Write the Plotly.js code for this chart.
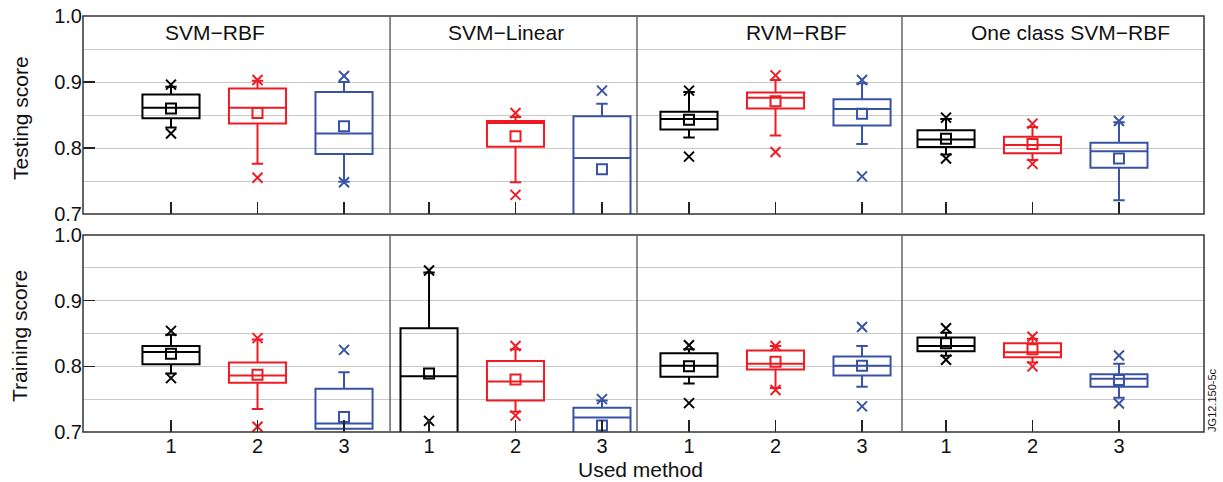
<!DOCTYPE html>
<html>
<head>
<meta charset="utf-8">
<script src="https://cdn.plot.ly/plotly-3.0.1.min.js"></script>
<style>html,body{margin:0;padding:0;background:#fff;}#chart{width:1223px;height:482px;}</style>
</head>
<body>
<div id="chart"></div>
<script>
// ---- data ----
const methods = [1, 2, 3];
const panelTitles = ['SVM\u2212RBF', 'SVM\u2212Linear', 'RVM\u2212RBF', 'One class SVM\u2212RBF'];
const rowTitles = ['Testing score', 'Training score'];
const methodColors = ['#000000', '#ed1c24', '#3953a4'];

// Testing score: [panel][method]
const testLower  = [[0.831, 0.776, 0.749], [null, 0.748, 0.640], [0.816, 0.819, 0.806], [0.790, 0.782, 0.721]];
const testQ1     = [[0.845, 0.837, 0.791], [null, 0.802, 0.660], [0.828, 0.860, 0.834], [0.8015, 0.792, 0.770]];
const testMedian = [[0.861, 0.861, 0.822], [null, 0.838, 0.785], [0.844, 0.876, 0.859], [0.813, 0.8045, 0.795]];
const testQ3     = [[0.881, 0.890, 0.885], [null, 0.841, 0.848], [0.855, 0.884, 0.874], [0.827, 0.817, 0.808]];
const testUpper  = [[0.893, 0.902, 0.900], [null, 0.847, 0.867], [0.885, 0.903, 0.898], [0.844, 0.832, 0.839]];
const testMean   = [[0.860, 0.853, 0.833], [null, 0.818, 0.768], [0.843, 0.871, 0.852], [0.814, 0.806, 0.784]];
const testOutliers = [
  [[0.896, 0.822], [0.903, 0.755], [0.909, 0.748]],
  [[], [0.853, 0.729], [0.887]],
  [[0.887, 0.787], [0.910, 0.794], [0.903, 0.757]],
  [[0.846, 0.784], [0.837, 0.776], [0.841]]
];

// Training score: [panel][method]
const trainLower  = [[0.789, 0.735, 0.705], [0.640, 0.731, 0.698], [0.774, 0.767, 0.769], [0.816, 0.806, 0.752]];
const trainQ1     = [[0.803, 0.775, 0.705], [0.660, 0.748, 0.698], [0.784, 0.795, 0.786], [0.823, 0.814, 0.769]];
const trainMedian = [[0.822, 0.786, 0.713], [0.785, 0.777, 0.722], [0.801, 0.804, 0.801], [0.831, 0.8215, 0.781]];
const trainQ3     = [[0.831, 0.806, 0.766], [0.858, 0.808, 0.737], [0.820, 0.824, 0.815], [0.844, 0.835, 0.788]];
const trainUpper  = [[0.848, 0.841, 0.791], [0.943, 0.826, 0.748], [0.826, 0.831, 0.831], [0.851, 0.842, 0.804]];
const trainMean   = [[0.819, 0.787, 0.723], [0.789, 0.780, 0.710], [0.800, 0.807, 0.801], [0.835, 0.826, 0.779]];
const trainOutliers = [
  [[0.854, 0.782], [0.843, 0.708], [0.825]],
  [[0.946, 0.717], [0.831, 0.725], [0.750]],
  [[0.832, 0.744], [0.831, 0.764], [0.860, 0.739]],
  [[0.858, 0.810], [0.845, 0.800], [0.8165, 0.7435]]
];

// ---- layout geometry ----
const xDomains = [[0, 0.2739], [0.2739, 0.4942], [0.4942, 0.7306], [0.7306, 1]];
const xRanges = [[-0.017, 3.532], [0.549, 3.405], [0.399, 3.462], [0.491, 3.983]];
const yDomains = [[0.524, 1], [0, 0.4736]];
const FONT = 'Liberation Sans, Arial, Helvetica, sans-serif';

const rows = [
  {lower: testLower, q1: testQ1, median: testMedian, q3: testQ3, upper: testUpper, mean: testMean, out: testOutliers},
  {lower: trainLower, q1: trainQ1, median: trainMedian, q3: trainQ3, upper: trainUpper, mean: trainMean, out: trainOutliers}
];

const traces = [];
rows.forEach((R, r) => {
  for (let p = 0; p < 4; p++) {
    const xa = 'x' + (r * 4 + p + 1 === 1 ? '' : (r * 4 + p + 1));
    const ya = r === 0 ? 'y' : 'y2';
    for (let m = 0; m < 3; m++) {
      if (R.q1[p][m] === null) continue;
      const c = methodColors[m];
      traces.push({
        type: 'box', x: [methods[m]],
        q1: [R.q1[p][m]], median: [R.median[p][m]], q3: [R.q3[p][m]],
        lowerfence: [R.lower[p][m]], upperfence: [R.upper[p][m]],
        width: 0.66, whiskerwidth: 0.2, boxpoints: false,
        line: {color: c, width: 2}, fillcolor: 'rgba(0,0,0,0)',
        hoverinfo: 'skip', xaxis: xa, yaxis: ya
      });
      traces.push({
        type: 'scatter', mode: 'markers', x: [methods[m]], y: [R.mean[p][m]],
        marker: {symbol: 'square-open', size: 10, color: c, line: {color: c, width: 2}},
        hoverinfo: 'skip', xaxis: xa, yaxis: ya
      });
      const o = R.out[p][m];
      if (o.length) {
        traces.push({
          type: 'scatter', mode: 'markers', x: o.map(() => methods[m]), y: o,
          marker: {symbol: 'x-thin-open', size: 10, color: c, line: {color: c, width: 2}},
          hoverinfo: 'skip', xaxis: xa, yaxis: ya
        });
      }
    }
  }
});

const layout = {
  width: 1223, height: 482,
  margin: {l: 83, r: 19, t: 16, b: 50},
  paper_bgcolor: '#fff', plot_bgcolor: '#fff',
  showlegend: false,
  font: {family: FONT, size: 20, color: '#111'},
  annotations: [], shapes: []
};

for (let r = 0; r < 2; r++) {
  for (let p = 0; p < 4; p++) {
    const idx = r * 4 + p + 1;
    const key = idx === 1 ? 'xaxis' : 'xaxis' + idx;
    layout[key] = {
      domain: xDomains[p], range: xRanges[p], anchor: r === 0 ? 'y' : 'y2',
      tickvals: methods, ticktext: methods.map(String),
      ticks: 'inside', ticklen: 12, tickwidth: 1.2, tickcolor: '#222',
      showticklabels: r === 1, tickfont: {size: 20, family: FONT, color: '#111'},
      showgrid: false, zeroline: false, showline: false, fixedrange: true
    };
  }
}
['yaxis', 'yaxis2'].forEach((k, r) => {
  layout[k] = {
    domain: yDomains[r], range: [0.7, 1.0], anchor: r === 0 ? 'x' : 'x5',
    tick0: 0.7, dtick: 0.1, tickformat: '.1f',
    ticks: 'inside', ticklen: 12, tickwidth: 1.2, tickcolor: '#222',
    tickfont: {size: 20, family: FONT, color: '#111'},
    showgrid: true, gridcolor: '#c8c8c8', gridwidth: 1,
    minor: {tick0: 0.7, dtick: 0.05, showgrid: true, gridcolor: '#c8c8c8', gridwidth: 1, ticks: ''},
    zeroline: false, showline: false, fixedrange: true
  };
});

// borders and dividers
yDomains.forEach(d => {
  layout.shapes.push({type: 'rect', xref: 'paper', yref: 'paper', x0: 0, x1: 1, y0: d[0], y1: d[1],
    line: {color: '#333', width: 1.5}, layer: 'above'});
  for (let p = 1; p < 4; p++) {
    layout.shapes.push({type: 'line', xref: 'paper', yref: 'paper', x0: xDomains[p][0], x1: xDomains[p][0],
      y0: d[0], y1: d[1], line: {color: '#666', width: 1.5}, layer: 'above'});
  }
});

// panel titles
const titleX = [0.1178, 0.3773, 0.6369, 0.8805];
panelTitles.forEach((t, i) => {
  layout.annotations.push({text: t, xref: 'paper', yref: 'paper', x: titleX[i], y: 0.9615,
    xanchor: 'center', yanchor: 'middle', showarrow: false, font: {size: 21, family: FONT, color: '#111'}});
});
// row titles
[0.7548, 0.2308].forEach((y, i) => {
  layout.annotations.push({text: rowTitles[i], xref: 'paper', yref: 'paper', x: -0.0562, y: y,
    xanchor: 'center', yanchor: 'middle', textangle: -90, showarrow: false,
    font: {size: 21, family: FONT, color: '#111'}});
});
layout.annotations.push({text: 'Used method', xref: 'paper', yref: 'paper', x: 0.4969, y: -0.0913,
  xanchor: 'center', yanchor: 'middle', showarrow: false, font: {size: 21, family: FONT, color: '#111'}});
layout.annotations.push({text: 'JG12.150-5c', xref: 'paper', yref: 'paper', x: 1.0071, y: 0.077,
  xanchor: 'center', yanchor: 'middle', textangle: -90, showarrow: false, font: {size: 11, family: FONT, color: '#111'}});

Plotly.newPlot('chart', traces, layout, {staticPlot: true, displayModeBar: false});
</script>
</body>
</html>
